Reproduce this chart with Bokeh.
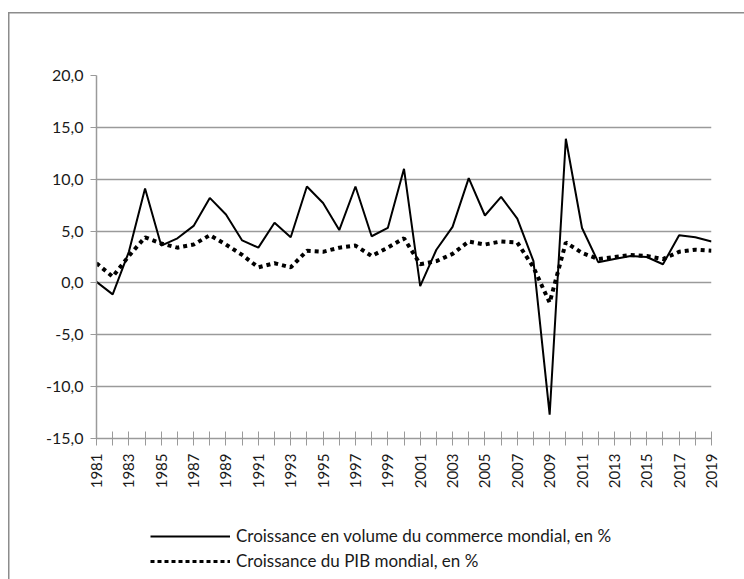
import math
from bokeh.plotting import figure
from bokeh.layouts import column
from bokeh.models import FixedTicker, Legend, LegendItem, Range1d
from bokeh.embed import file_html
from bokeh.resources import INLINE

years = list(range(1981, 2020))
commerce = [0.1, -1.1, 3.0, 9.1, 3.6, 4.3, 5.5, 8.2, 6.6, 4.1,
            3.4, 5.8, 4.4, 9.3, 7.7, 5.1, 9.3, 4.5, 5.3, 11.0,
            -0.3, 3.2, 5.4, 10.1, 6.5, 8.3, 6.2, 2.1, -12.7, 13.9,
            5.3, 2.0, 2.3, 2.6, 2.5, 1.8, 4.6, 4.4, 4.0]
pib = [1.9, 0.6, 2.6, 4.4, 3.8, 3.4, 3.7, 4.6, 3.7, 2.7,
       1.5, 1.9, 1.5, 3.1, 3.0, 3.4, 3.6, 2.6, 3.4, 4.3,
       1.8, 2.1, 2.8, 4.0, 3.7, 4.0, 3.9, 1.5, -1.9, 3.9,
       2.9, 2.3, 2.5, 2.7, 2.6, 2.3, 3.0, 3.2, 3.1]
y_ticks = [-15, -10, -5, 0, 5, 10, 15, 20]
y_labels = ["-15,0", "-10,0", "-5,0", "0,0", "5,0", "10,0", "15,0", "20,0"]
label_commerce = "Croissance en volume du commerce mondial, en %"
label_pib = "Croissance du PIB mondial, en %"

FONT = "Lato"
GRAY = "#9a9a9a"
BORDER = "#8c8c8c"
TEXT = "#1a1a1a"

p = figure(width=744, height=500, output_backend="svg", toolbar_location=None,
           x_range=Range1d(years[0], years[-1]), y_range=Range1d(y_ticks[0], y_ticks[-1]),
           min_border_left=96, min_border_top=75, min_border_right=33, min_border_bottom=62)
p.outline_line_color = None
p.background_fill_color = "white"
p.border_fill_color = None
p.styles = {
    "background": (f"linear-gradient({BORDER},{BORDER}) 8px 12px / 1.5px 100% no-repeat, "
                   f"linear-gradient({BORDER},{BORDER}) 8px 12px / 100% 1.5px no-repeat, white"),
}

# x axis
p.xaxis.ticker = FixedTicker(ticks=years)
p.xaxis.major_label_overrides = {y: (str(y) if (y - years[0]) % 2 == 0 else "") for y in years}
p.xaxis.major_label_orientation = math.pi / 2
p.xaxis.major_tick_in = 7
p.xaxis.major_tick_out = 7
p.xaxis.minor_tick_line_color = None
p.xaxis.major_label_standoff = 8
p.xaxis.axis_line_color = GRAY
p.xaxis.major_tick_line_color = GRAY
p.xaxis.axis_line_width = 1.5
p.xaxis.major_label_text_font = FONT
p.xaxis.major_label_text_font_size = "15px"
p.xaxis.major_label_text_color = TEXT

# y axis
p.yaxis.ticker = FixedTicker(ticks=y_ticks)
p.yaxis.major_label_overrides = dict(zip(y_ticks, y_labels))
p.yaxis.major_tick_in = 0
p.yaxis.major_tick_out = 6
p.yaxis.minor_tick_line_color = None
p.yaxis.major_label_standoff = 7
p.yaxis.axis_line_color = GRAY
p.yaxis.major_tick_line_color = GRAY
p.yaxis.axis_line_width = 1.5
p.yaxis.major_label_text_font = FONT
p.yaxis.major_label_text_font_size = "16px"
p.yaxis.major_label_text_color = TEXT

p.xgrid.grid_line_color = None
p.ygrid.grid_line_color = GRAY
p.ygrid.grid_line_width = 1.5

p.line(years, commerce, line_color="black", line_width=2)
p.line(years, pib, line_color="black", line_width=4, line_dash="4 4")

# legend panel (separate small figure under the chart; its frame is aligned with the chart's)
q = figure(width=744, height=79, output_backend="svg", toolbar_location=None,
           x_range=Range1d(0, 1), y_range=Range1d(0, 1),
           x_axis_type=None, y_axis_type=None, min_border=0)
q.outline_line_color = None
q.grid.visible = False
q.background_fill_color = None
q.border_fill_color = None
q.styles = {
    "background": f"linear-gradient({BORDER},{BORDER}) 8px 0px / 1.5px 100% no-repeat, white",
}
# legend-only glyphs, kept outside the visible range
l1 = q.line([-2, -1], [-2, -2], line_color="black", line_width=2)
l2 = q.line([-2, -1], [-2, -2], line_color="black", line_width=3, line_dash="4 3")

legend = Legend(items=[LegendItem(label=label_commerce, renderers=[l1]),
                       LegendItem(label=label_pib, renderers=[l2])],
                location=(54, 8), orientation="vertical",
                padding=0, margin=0, spacing=4, glyph_width=80, glyph_height=20,
                label_height=20, label_standoff=6,
                border_line_color=None, background_fill_alpha=0,
                label_text_font=FONT, label_text_font_size="17px",
                label_text_color=TEXT)
q.add_layout(legend, "center")

layout = column(p, q, spacing=0)
open("out.html", "w").write(file_html(layout, INLINE))
